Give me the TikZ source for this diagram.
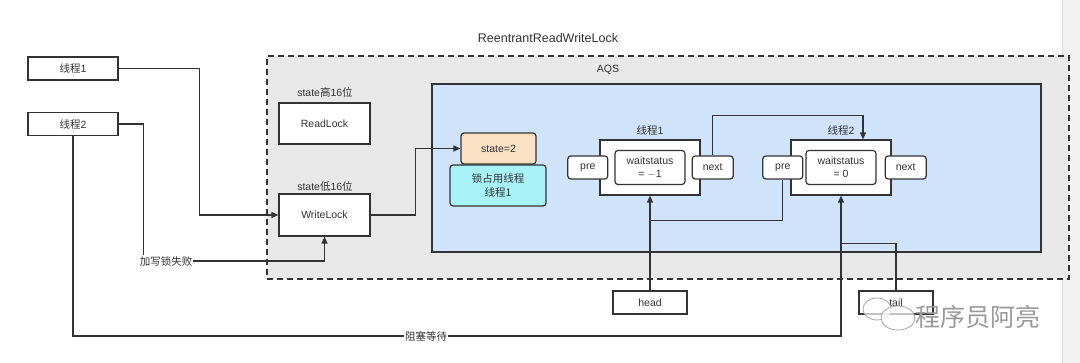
\documentclass[tikz,border=0pt]{standalone}
\usepackage{fontspec}
\setmainfont{Liberation Sans}
\newfontfamily\cjk{Noto Sans CJK SC}
\newcommand{\zh}[1]{{\cjk #1}}
\usetikzlibrary{arrows.meta,calc,positioning}
\definecolor{ink}{HTML}{333333}
\definecolor{outergray}{HTML}{E8E8E8}
\definecolor{aqsblue}{HTML}{CFE4FB}
\definecolor{peach}{HTML}{FAE1C3}
\definecolor{ownercyan}{HTML}{A8F3F8}
\definecolor{stripgray}{HTML}{F2F2F2}

\begin{document}
\begin{tikzpicture}[x=1pt,y=-1pt,font=\fontsize{10.5}{12.5}\selectfont,text=ink,
  box/.style={draw=ink,line width=1.2pt,fill=white,inner sep=0pt,align=center},
  pill/.style={box,rounded corners=3pt},
  line/.style={draw=ink,line width=1.2pt},
  arr/.style={line,-{Triangle[length=7pt,width=6pt]}}]
  \useasboundingbox (0,0) rectangle (1080,363);
  \fill[white] (0,0) rectangle (1080,363);
  \fill[stripgray] (1062,0) rectangle (1080,363);
  \draw[black!15] (1062,0) -- (1062,363);

  % containers
  \node[draw=ink,line width=1.2pt,dash pattern=on 6pt off 4pt,fill=outergray,
    minimum width=802pt,minimum height=223pt,inner sep=0pt] (rrwl) at (668,167.5) {};
  \node[font=\fontsize{12.5}{14}\selectfont] (rrwltitle) at (548,38) {ReentrantReadWriteLock};
  \node[draw=ink,line width=1.2pt,fill=aqsblue,
    minimum width=609pt,minimum height=168pt,inner sep=0pt] (aqs) at (736.5,168) {};
  \node (aqstitle) at (608,70) {AQS};

  % threads
  \node[box,minimum width=90pt,minimum height=23pt] (t1) at (73,68.5) {\zh{线程}1};
  \node[box,minimum width=90pt,minimum height=23pt] (t2) at (73,124) {\zh{线程}2};

  % read / write lock
  \node[box,minimum width=91pt,minimum height=41pt] (rlock) at (324.5,123.5) {ReadLock};
  \node (rlabel) at (325,92) {state\zh{高}16\zh{位}};
  \node[box,minimum width=91pt,minimum height=42pt] (wlock) at (324.5,215) {WriteLock};
  \node (wlabel) at (325,186) {state\zh{低}16\zh{位}};

  % state and owner
  \node[pill,fill=peach,minimum width=75pt,minimum height=31pt] (st) at (498.5,148.5) {state=2};
  \node[pill,fill=ownercyan,minimum width=96pt,minimum height=41pt,
    font=\cjk\fontsize{10.5}{13.5}\selectfont] (owner) at (498,185.5) {锁占用线程\\线程1};

  % queue nodes
  \node[box,minimum width=100pt,minimum height=55pt] (q1) at (650,167.5) {};
  \node[above=1pt of q1] (q1label) {\zh{线程}1};
  \node[pill,minimum width=70pt,minimum height=34pt,font=\fontsize{10.5}{13}\selectfont] (w1) at (q1.center) {waitstatus\\= $-$1};
  \node[pill,minimum width=40pt,minimum height=23pt,anchor=east] (p1) at ($(q1.west)+(9,0)$) {pre};
  \node[pill,minimum width=41pt,minimum height=23pt,anchor=west] (n1) at ($(q1.east)+(-9,0)$) {next};

  \node[box,minimum width=100pt,minimum height=55pt] (q2) at (841,167.5) {};
  \node[above=1pt of q2] (q2label) {\zh{线程}2};
  \node[pill,minimum width=70pt,minimum height=34pt,font=\fontsize{10.5}{13}\selectfont] (w2) at (q2.center) {waitstatus\\= 0};
  \node[pill,minimum width=40pt,minimum height=23pt,anchor=east] (p2) at ($(q2.west)+(13,0)$) {pre};
  \node[pill,minimum width=41pt,minimum height=23pt,anchor=west] (n2) at ($(q2.east)+(-7,0)$) {next};

  % head / tail
  \node[box,minimum width=74pt,minimum height=23pt] (head) at (650,302.5) {head};
  \node[box,minimum width=74pt,minimum height=23pt] (tail) at (896,302.5) {tail};

  % edge labels
  \node[inner sep=1pt,font=\cjk\fontsize{10.5}{12.5}\selectfont] (fail) at (166,261) {加写锁失败};
  \node[inner sep=1pt,font=\cjk\fontsize{10.5}{12.5}\selectfont] (block) at (426,336) {阻塞等待};

  % connectors
  \draw[arr] (t1.east) -- ++(81,0) |- (wlock.west);
  \draw[line] (t2.east) -- ++(25,0) coordinate (t2turn) -- (t2turn |- fail.north);
  \draw[arr] (fail.east) -| (wlock.south);
  \draw[line] (t2.south) |- (block.west);
  \draw[arr] (block.east) -| (q2.south);
  \draw[arr] (wlock.east) -- ++(45,0) |- (st.west);
  \draw[arr] (n1.north) -- ++(0,-40) -| ($(q2.north)+(22,0)$);
  \draw[arr] (head.north) -- (q1.south);
  \coordinate (headjoin) at ($(q1.south)+(0,25)$);
  \draw[line] (p2.south) |- (headjoin);
  \draw[line] (tail.north) |- ($(q2.south)+(0,48)$);

  % watermark
  \draw[black!35,fill=white,fill opacity=0.7,line width=0.8pt] (877,309) ellipse (14pt and 11pt);
  \draw[black!35,fill=white,fill opacity=0.7,line width=0.8pt] (898,318) ellipse (17pt and 12pt);
  \node[text=black!40,font=\cjk\fontsize{25}{27}\selectfont] (mark) at (978,317) {程序员阿亮};
\end{tikzpicture}
\end{document}
